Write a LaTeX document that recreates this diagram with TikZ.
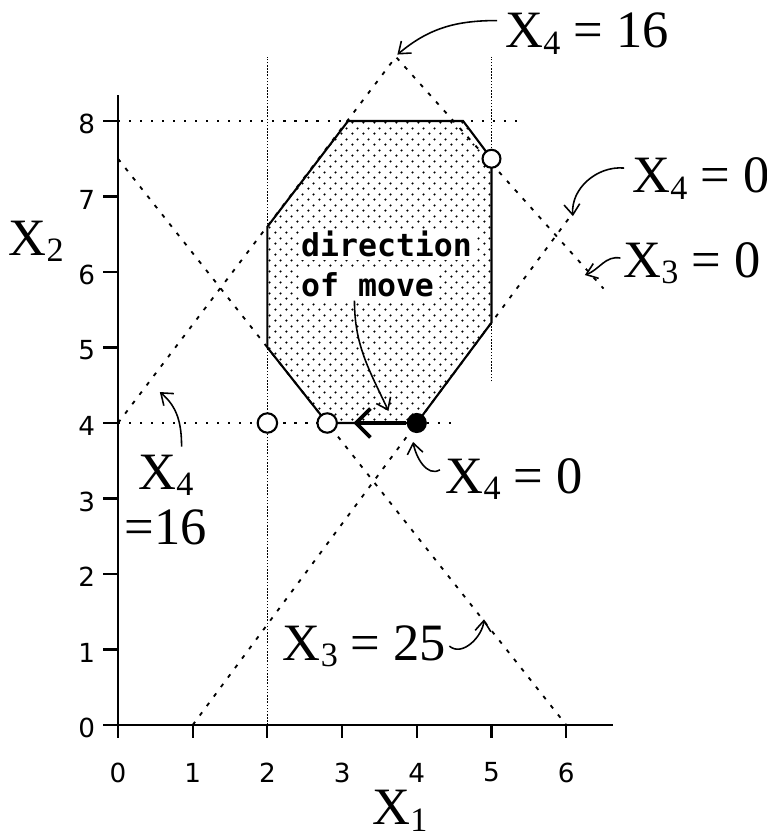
\documentclass[tikz,border=0pt]{standalone}
\usepackage{fontspec}
\setmainfont{Liberation Serif}
\newfontfamily\tickfont{DejaVu Sans}
\newfontfamily\movefont{DejaVu Sans Mono}
\usetikzlibrary{arrows.meta,patterns}
\pgfdeclarepatternformonly{lpdots}{\pgfpoint{-0.6pt}{-0.6pt}}{\pgfpoint{3.6pt}{3.6pt}}{\pgfpoint{4.2pt}{4.2pt}}{%
  \pgfpathcircle{\pgfpoint{0pt}{0pt}}{0.5pt}\pgfpathcircle{\pgfpoint{2.1pt}{2.1pt}}{0.5pt}\pgfusepath{fill}}
\newcommand{\xs}[1]{X\raisebox{-2.5pt}{\fontsize{13pt}{13pt}\selectfont#1}}
\begin{document}
\begin{tikzpicture}[y={(0cm,1.0107cm)},
  diag/.style={line width=0.7pt,dash pattern=on 1.5pt off 3pt},
  fine/.style={line width=0.6pt,dash pattern=on 0.6pt off 0.6pt},
  sparse/.style={line width=0.8pt,dash pattern=on 0.8pt off 3.4pt},
  lbl/.style={font=\fontsize{20pt}{21pt}\selectfont,inner sep=0pt},
  note/.style={line width=0.6pt,-{Straight Barb[length=4pt,width=6pt]}},
  tk/.style={font=\tickfont\fontsize{10pt}{10pt}\selectfont,inner sep=0pt},
  hole/.style={circle,draw,line width=0.8pt,fill=white,inner sep=0pt,minimum size=0.26cm}]
\useasboundingbox (-1.58,-1.497) rectangle (8.675,9.603);
% constraint lines
\draw[sparse] (0,8)--(5.4,8);
\draw[sparse] (0,4)--(4.5,4);
\draw[fine] (2,0)--(2,8.85);
\draw[fine] (5,4.55)--(5,8.85);
\coordinate (apex) at (3.72,8.85);
\draw[diag] (0,4)--(apex)--(6.5,5.78);
\draw[diag] (0,7.5)--(6,0);
\draw[diag] (1,0)--(6.05,6.73);
% feasible region
\draw[pattern=lpdots,line width=0.8pt] (2,5)--(2,6.6)--(3.08,8)--(4.62,8)--(5,7.5)--(5,5.33)--(4,4)--(2.8,4)--cycle;
% axes
\draw[line width=0.8pt] (-0.2,0)--(6.63,0);
\draw[line width=0.8pt] (0,-0.17)--(0,8.34);
\foreach \i in {1,...,6} \draw[line width=0.8pt] (\i,0)--(\i,-0.17);
\foreach \i in {1,...,8} \draw[line width=0.8pt] (0,\i)--(-0.2,\i);
\foreach \i in {0,...,6} \node[tk] at (\i,-0.63) {\i};
\foreach \i in {0,...,8} \node[tk,anchor=east] at (-0.3,\i-0.04) {\i};
\node[lbl,anchor=base west] (xone) at (3.4,-1.32) {\xs{1}};
\node[lbl,anchor=base west] (xtwo) at (-1.47,6.22) {\xs{2}};
% points and move
\node[hole] (pa) at (2,4) {};
\node[hole] (pb) at (2.8,4) {};
\node[hole,minimum size=0.24cm] (pc) at (5,7.5) {};
\node[circle,fill,inner sep=0pt,minimum size=0.27cm] (pd) at (4,4) {};
\coordinate (mvtip) at (3.15,4);
\draw[line width=1.4pt,-{Straight Barb[length=5.5pt,width=11pt]}] (pd)--(mvtip);
\node[font=\movefont\bfseries\fontsize{12pt}{16pt}\selectfont,fill=white,inner sep=1pt,anchor=base west] (dirA) at (2.41,6.2) {direction};
\node[font=\movefont\bfseries\fontsize{12pt}{16pt}\selectfont,fill=white,inner sep=1pt,anchor=base west] (dirB) at (2.41,5.67) {of move};
% labels
\node[lbl,anchor=base west] (ttop) at (5.18,8.97) {\xs{4} = 16};
\node[lbl,anchor=base west] (tright) at (6.88,7.05) {\xs{4} = 0};
\node[lbl,anchor=base west] (tthree) at (6.76,5.93) {\xs{3} = 0};
\node[lbl,anchor=base west] (tlow) at (4.38,3.07) {\xs{4} = 0};
\node[lbl,align=center] (tleft) at (0.64,2.98) {\xs{4}\\=16};
\node[lbl,anchor=base west] (tbot) at (2.2,0.86) {\xs{3} = 25};
\coordinate (tipA) at (3.74,8.88);
\coordinate (tipB) at (6.09,6.74);
\coordinate (tipC) at (6.25,5.96);
\coordinate (tipD) at (3.95,3.75);
\coordinate (tipE) at (0.56,4.41);
\coordinate (tipF) at (3.62,4.16);
\coordinate (tipG) at (4.9,1.4);
\draw[note] ([xshift=-3pt,yshift=5pt]ttop.west) to[out=180,in=40] (tipA);
\draw[note] ([xshift=-3pt,yshift=4pt]tright.west) to[out=175,in=95] (tipB);
\draw[note] ([xshift=-1pt,yshift=2pt]tthree.west) to[out=170,in=20] (tipC);
\draw[note] ([xshift=-2pt,yshift=3.5pt]tlow.west) to[out=-150,in=-80] (tipD);
\draw[note] ([xshift=6pt,yshift=3pt]tleft.north) to[out=90,in=-40] (tipE);
\draw[note] ([xshift=1pt]tbot.east) to[out=-40,in=-95] (tipG);
\draw[note] ([xshift=-5pt]dirB.south) to[out=-90,in=115] (tipF);
\end{tikzpicture}
\end{document}
